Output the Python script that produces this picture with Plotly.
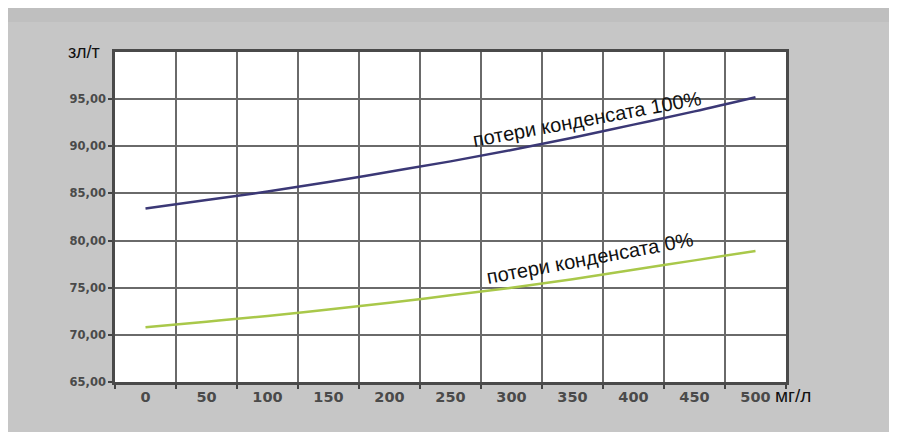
import plotly.graph_objects as go

# данные: удельная стоимость (зл/т) в зависимости от солесодержания (мг/л)
salinity = ["0", "50", "100", "150", "200", "250", "300", "350", "400", "450", "500"]
loss_100 = [83.4, 84.3, 85.2, 86.2, 87.3, 88.4, 89.6, 90.9, 92.3, 93.7, 95.2]
loss_0 = [70.8, 71.4, 72.0, 72.7, 73.4, 74.2, 75.0, 75.9, 76.9, 77.9, 78.9]
y_ticks = [65, 70, 75, 80, 85, 90, 95]

fig = go.Figure()
fig.add_trace(go.Scatter(x=salinity, y=loss_100, mode="lines",
                         line=dict(color="#3b3876", width=2.5, shape="spline"),
                         name="потери конденсата 100%"))
fig.add_trace(go.Scatter(x=salinity, y=loss_0, mode="lines",
                         line=dict(color="#a9c84a", width=2.5, shape="spline"),
                         name="потери конденсата 0%"))

tick_font = dict(family="DejaVu Sans", color="#4a4a4a", weight="bold")

fig.update_xaxes(type="category", range=[-0.5, 10.5], tickson="boundaries",
                 showgrid=True, gridcolor="#6a6a6a", gridwidth=1.5,
                 ticks="outside", ticklen=4, tickcolor="#444444", tickwidth=2,
                 showline=True, linecolor="#4a4a4a", linewidth=2.5, mirror=True,
                 tickfont=dict(size=14.5, **tick_font), zeroline=False)
fig.update_yaxes(range=[65, 100], tickvals=y_ticks, tickformat=".2f",
                 showgrid=True, gridcolor="#6a6a6a", gridwidth=1.5,
                 ticks="outside", ticklen=4, tickcolor="#444444", tickwidth=2,
                 showline=True, linecolor="#4a4a4a", linewidth=2.5, mirror=True,
                 tickfont=dict(size=11.5, **tick_font), zeroline=False)

text_font = dict(family="Liberation Sans, Arial", size=20, color="#111111")
fig.add_annotation(text="потери конденсата 100%", xref="paper", yref="paper",
                   x=0.703, y=0.797, xanchor="center", yanchor="middle",
                   textangle=-10.5, showarrow=False, font=text_font)
fig.add_annotation(text="потери конденсата 0%", xref="paper", yref="paper",
                   x=0.708, y=0.376, xanchor="center", yanchor="middle",
                   textangle=-10.5, showarrow=False, font=text_font)
fig.add_annotation(text="зл/т", xref="paper", yref="paper", x=-0.019, y=1.0,
                   xanchor="right", yanchor="middle", showarrow=False,
                   font=dict(family="Liberation Sans, Arial", size=18, color="#111111"))
fig.add_annotation(text="мг/л", xref="paper", yref="paper", x=0.98, y=-0.042,
                   xanchor="left", yanchor="middle", showarrow=False,
                   font=dict(family="Liberation Sans, Arial", size=19, color="#111111"))

# светлая полоса справа и более тёмная полоса сверху панели
fig.add_shape(type="rect", xref="paper", yref="paper", x0=1.155, x1=1.3, y0=-0.3, y1=1.3,
              fillcolor="#f1f1f1", line_width=0, layer="below")
fig.add_shape(type="rect", xref="paper", yref="paper", x0=-0.3, x1=1.155,
              y0=1.091, y1=1.3, fillcolor="#bfbfbf", line_width=0, layer="below")

fig.update_layout(width=889, height=424, showlegend=False,
                  margin=dict(l=107, r=111, t=44, b=50),
                  paper_bgcolor="#c6c6c6", plot_bgcolor="white",
                  separators=", ")

fig.write_html("out.html")
